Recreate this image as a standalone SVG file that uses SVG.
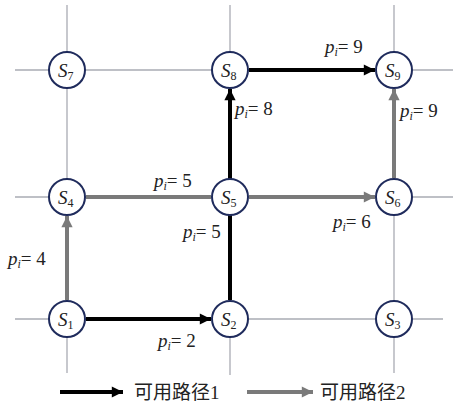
<svg xmlns="http://www.w3.org/2000/svg" width="453" height="406" viewBox="0 0 453 406" font-family="Liberation Serif, Times New Roman, serif">
<style>
.grid{stroke:#a9abb3;stroke-width:1.3;fill:none}
.node circle{fill:#fff;stroke:#1f2b5c;stroke-width:2}
.s{font-size:19px;font-style:italic;fill:#222}
.sub{font-size:12px;font-style:normal}
.lbl{font-size:19px;fill:#222}
.lbl .p{font-style:italic}
.lbl .i{font-style:italic;font-size:12px}
.b{stroke:#000;stroke-width:4;fill:none}
.g{stroke:#7a7a7a;stroke-width:4;fill:none}
.leg{font-size:19px;fill:#222}
</style>
<defs>
<marker id="ab" viewBox="0 0 10 10" refX="10" refY="5" markerWidth="3" markerHeight="2.8" orient="auto" markerUnits="strokeWidth"><path d="M0,0 L10,5 L0,10 Z" fill="#000"/></marker>
<marker id="ag" viewBox="0 0 10 10" refX="10" refY="5" markerWidth="3" markerHeight="2.8" orient="auto" markerUnits="strokeWidth"><path d="M0,0 L10,5 L0,10 Z" fill="#7a7a7a"/></marker>
</defs>
<g id="grid">
<line class="grid" x1="67" y1="5" x2="67" y2="373"/>
<line class="grid" x1="230" y1="5" x2="230" y2="375"/>
<line class="grid" x1="394" y1="5" x2="394" y2="373"/>
<line class="grid" x1="15" y1="70" x2="453" y2="70"/>
<line class="grid" x1="15" y1="197" x2="453" y2="197"/>
<line class="grid" x1="15" y1="319" x2="443" y2="319"/>
</g>
<g id="connectors">
<line class="b" x1="86" y1="319" x2="211" y2="319" marker-end="url(#ab)"/>
<line class="b" x1="230" y1="300" x2="230" y2="215"/>
<line class="b" x1="230" y1="215" x2="230" y2="89" marker-end="url(#ab)"/>
<line class="b" x1="249" y1="70" x2="375" y2="70" marker-end="url(#ab)"/>
<line class="g" x1="67" y1="300" x2="67" y2="216" marker-end="url(#ag)"/>
<line class="g" x1="86" y1="197" x2="211" y2="197"/>
<line class="g" x1="249" y1="197" x2="375" y2="197" marker-end="url(#ag)"/>
<line class="g" x1="394" y1="178" x2="394" y2="89" marker-end="url(#ag)"/>
</g>
<g id="S1" class="node"><circle cx="67" cy="319" r="18"/><text class="s" font-family="Liberation Serif" x="58" y="326">S<tspan class="sub" dy="3">1</tspan></text></g>
<g id="S2" class="node"><circle cx="230" cy="319" r="18"/><text class="s" font-family="Liberation Serif" x="221" y="326">S<tspan class="sub" dy="3">2</tspan></text></g>
<g id="S3" class="node"><circle cx="394" cy="319" r="18"/><text class="s" font-family="Liberation Serif" x="385" y="326">S<tspan class="sub" dy="3">3</tspan></text></g>
<g id="S4" class="node"><circle cx="67" cy="197" r="18"/><text class="s" font-family="Liberation Serif" x="58" y="204">S<tspan class="sub" dy="3">4</tspan></text></g>
<g id="S5" class="node"><circle cx="230" cy="197" r="18"/><text class="s" font-family="Liberation Serif" x="221" y="204">S<tspan class="sub" dy="3">5</tspan></text></g>
<g id="S6" class="node"><circle cx="394" cy="197" r="18"/><text class="s" font-family="Liberation Serif" x="385" y="204">S<tspan class="sub" dy="3">6</tspan></text></g>
<g id="S7" class="node"><circle cx="67" cy="70" r="18"/><text class="s" font-family="Liberation Serif" x="58" y="77">S<tspan class="sub" dy="3">7</tspan></text></g>
<g id="S8" class="node"><circle cx="230" cy="70" r="18"/><text class="s" font-family="Liberation Serif" x="221" y="77">S<tspan class="sub" dy="3">8</tspan></text></g>
<g id="S9" class="node"><circle cx="394" cy="70" r="18"/><text class="s" font-family="Liberation Serif" x="385" y="77">S<tspan class="sub" dy="3">9</tspan></text></g>
<g id="labels" font-family="Liberation Serif">
<text class="lbl" x="325" y="53"><tspan class="p">p</tspan><tspan class="i" dy="3">i</tspan><tspan dy="-3">= 9</tspan></text>
<text class="lbl" x="235" y="115"><tspan class="p">p</tspan><tspan class="i" dy="3">i</tspan><tspan dy="-3">= 8</tspan></text>
<text class="lbl" x="400" y="117"><tspan class="p">p</tspan><tspan class="i" dy="3">i</tspan><tspan dy="-3">= 9</tspan></text>
<text class="lbl" x="154" y="187"><tspan class="p">p</tspan><tspan class="i" dy="3">i</tspan><tspan dy="-3">= 5</tspan></text>
<text class="lbl" x="183" y="238"><tspan class="p">p</tspan><tspan class="i" dy="3">i</tspan><tspan dy="-3">= 5</tspan></text>
<text class="lbl" x="333" y="228"><tspan class="p">p</tspan><tspan class="i" dy="3">i</tspan><tspan dy="-3">= 6</tspan></text>
<text class="lbl" x="8" y="265"><tspan class="p">p</tspan><tspan class="i" dy="3">i</tspan><tspan dy="-3">= 4</tspan></text>
<text class="lbl" x="158" y="347"><tspan class="p">p</tspan><tspan class="i" dy="3">i</tspan><tspan dy="-3">= 2</tspan></text>
</g>
<g id="legend" font-family="Liberation Serif, Noto Sans CJK SC, serif">
<line class="b" x1="60" y1="392" x2="123" y2="392" marker-end="url(#ab)"/>
<text class="leg" x="134" y="399">可用路径1</text>
<line class="g" x1="247" y1="392" x2="313" y2="392" marker-end="url(#ag)"/>
<text class="leg" x="320" y="399">可用路径2</text>
</g>
</svg>
